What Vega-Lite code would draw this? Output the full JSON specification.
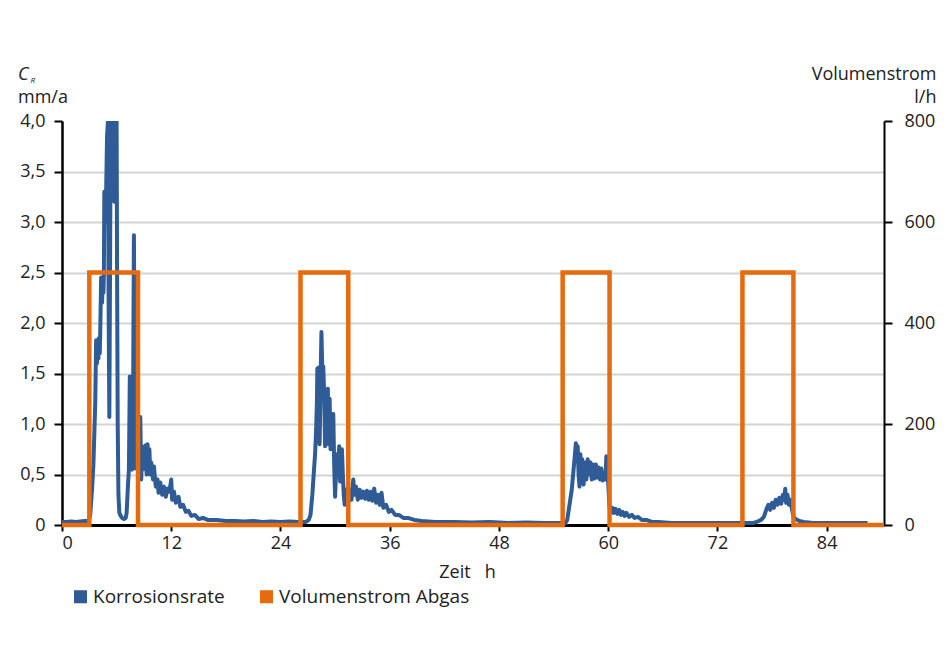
{
  "$schema": "https://vega.github.io/schema/vega-lite/v6.json",
  "width": 822,
  "height": 404,
  "autosize": {"type": "none"},
  "padding": {"left": 62, "top": 121, "right": 64, "bottom": 143},
  "background": "white",
  "config": {
    "font": "Open Sans",
    "view": {"stroke": null},
    "axis": {"labelFont": "Open Sans", "titleFont": "Open Sans", "labelColor": "#222", "titleColor": "#222"}
  },
  "title": {
    "text": "C",
    "subtitle": "mm/a",
    "anchor": "start",
    "frame": "group",
    "fontSize": 18,
    "fontStyle": "italic",
    "fontWeight": "normal",
    "color": "#222",
    "subtitleFontSize": 18,
    "subtitleFontStyle": "normal",
    "subtitleColor": "#222",
    "subtitlePadding": 5,
    "dx": -44,
    "dy": 46
  },
  "datasets": {
    "korrosion": [
      {"t":0,"v":0.03},{"t":0.5,"v":0.03},{"t":1,"v":0.035},{"t":1.5,"v":0.03},{"t":2,"v":0.035},{"t":2.5,"v":0.04},{"t":2.9,"v":0.04},
      {"t":3.1,"v":0.1},{"t":3.3,"v":0.35},{"t":3.45,"v":0.6},{"t":3.55,"v":0.9},{"t":3.65,"v":1.2},{"t":3.75,"v":1.83},{"t":3.85,"v":1.6},{"t":3.9,"v":1.8},{"t":4.0,"v":1.65},{"t":4.05,"v":1.85},{"t":4.15,"v":1.7},{"t":4.2,"v":1.9},{"t":4.3,"v":2.45},{"t":4.4,"v":2.2},{"t":4.5,"v":2.45},{"t":4.55,"v":2.3},{"t":4.6,"v":2.47},{"t":4.65,"v":3.3},{"t":4.75,"v":3.0},{"t":4.85,"v":3.3},{"t":4.95,"v":3.85},{"t":5.05,"v":4.0},{"t":5.12,"v":2.2},{"t":5.2,"v":1.07},{"t":5.28,"v":2.6},{"t":5.35,"v":4.0},{"t":5.45,"v":3.3},{"t":5.5,"v":4.0},{"t":5.6,"v":3.5},{"t":5.65,"v":4.0},{"t":5.75,"v":3.2},{"t":5.8,"v":4.0},{"t":5.9,"v":3.7},{"t":6.0,"v":4.0},{"t":6.05,"v":2.5},{"t":6.12,"v":1.0},{"t":6.2,"v":0.3},{"t":6.3,"v":0.12},{"t":6.45,"v":0.09},{"t":6.6,"v":0.07},{"t":6.8,"v":0.06},{"t":7.0,"v":0.07},{"t":7.1,"v":0.12},{"t":7.25,"v":0.4},{"t":7.35,"v":0.55},{"t":7.45,"v":1.47},{"t":7.55,"v":0.6},{"t":7.7,"v":0.55},{"t":7.8,"v":1.0},{"t":7.85,"v":2.0},{"t":7.9,"v":2.87},{"t":7.95,"v":2.0},{"t":8.0,"v":1.0},{"t":8.1,"v":0.56},{"t":8.2,"v":0.7},{"t":8.3,"v":0.65},{"t":8.4,"v":1.05},{"t":8.5,"v":0.5},{"t":8.6,"v":1.07},{"t":8.7,"v":0.45},{"t":8.8,"v":0.78},{"t":8.9,"v":0.55},{"t":9.0,"v":0.7},{"t":9.1,"v":0.6},{"t":9.2,"v":0.79},{"t":9.3,"v":0.5},{"t":9.4,"v":0.8},{"t":9.5,"v":0.55},{"t":9.6,"v":0.75},{"t":9.7,"v":0.5},{"t":9.8,"v":0.62},{"t":10.0,"v":0.45},{"t":10.1,"v":0.58},{"t":10.3,"v":0.38},{"t":10.5,"v":0.45},{"t":10.6,"v":0.32},{"t":10.8,"v":0.42},{"t":11.0,"v":0.3},{"t":11.2,"v":0.38},{"t":11.4,"v":0.28},{"t":11.6,"v":0.36},{"t":11.8,"v":0.33},{"t":12.0,"v":0.45},{"t":12.1,"v":0.25},{"t":12.3,"v":0.33},{"t":12.5,"v":0.22},{"t":12.8,"v":0.28},{"t":13.0,"v":0.18},{"t":13.3,"v":0.2},{"t":13.6,"v":0.13},{"t":13.9,"v":0.14},{"t":14.2,"v":0.09},{"t":14.6,"v":0.1},{"t":15.0,"v":0.06},{"t":15.5,"v":0.07},{"t":16,"v":0.05},{"t":17,"v":0.05},{"t":18,"v":0.04},{"t":19,"v":0.04},{"t":20,"v":0.035},{"t":21,"v":0.04},{"t":22,"v":0.03},{"t":23,"v":0.035},{"t":24,"v":0.03},{"t":25,"v":0.035},{"t":26,"v":0.03},{"t":26.8,"v":0.03},
      {"t":27.1,"v":0.05},{"t":27.3,"v":0.1},{"t":27.5,"v":0.3},{"t":27.65,"v":0.5},{"t":27.8,"v":0.7},{"t":27.9,"v":0.9},{"t":28.0,"v":1.2},{"t":28.05,"v":1.55},{"t":28.15,"v":1.5},{"t":28.2,"v":1.56},{"t":28.3,"v":0.8},{"t":28.4,"v":1.4},{"t":28.5,"v":1.91},{"t":28.6,"v":1.5},{"t":28.7,"v":1.57},{"t":28.8,"v":1.3},{"t":28.9,"v":0.78},{"t":29.0,"v":1.2},{"t":29.1,"v":1.0},{"t":29.2,"v":1.35},{"t":29.3,"v":0.8},{"t":29.4,"v":1.25},{"t":29.5,"v":0.75},{"t":29.6,"v":1.1},{"t":29.7,"v":0.8},{"t":29.8,"v":1.1},{"t":29.9,"v":0.6},{"t":30.0,"v":0.28},{"t":30.1,"v":0.5},{"t":30.2,"v":0.7},{"t":30.3,"v":0.5},{"t":30.45,"v":0.78},{"t":30.55,"v":0.43},{"t":30.65,"v":0.6},{"t":30.75,"v":0.75},{"t":30.85,"v":0.5},{"t":30.95,"v":0.3},{"t":31.05,"v":0.2},{"t":31.15,"v":0.35},{"t":31.3,"v":0.2},
      {"t":31.45,"v":0.22},{"t":31.6,"v":0.35},{"t":31.8,"v":0.25},{"t":32.0,"v":0.45},{"t":32.1,"v":0.3},{"t":32.3,"v":0.38},{"t":32.5,"v":0.25},{"t":32.7,"v":0.35},{"t":32.9,"v":0.27},{"t":33.1,"v":0.33},{"t":33.3,"v":0.26},{"t":33.5,"v":0.34},{"t":33.7,"v":0.25},{"t":33.9,"v":0.33},{"t":34.1,"v":0.24},{"t":34.3,"v":0.36},{"t":34.5,"v":0.22},{"t":34.7,"v":0.3},{"t":34.9,"v":0.2},{"t":35.1,"v":0.32},{"t":35.3,"v":0.17},{"t":35.6,"v":0.2},{"t":35.9,"v":0.13},{"t":36.2,"v":0.15},{"t":36.6,"v":0.1},{"t":37.0,"v":0.1},{"t":37.5,"v":0.07},{"t":38.0,"v":0.07},{"t":38.7,"v":0.05},{"t":39.5,"v":0.04},{"t":41,"v":0.03},{"t":43,"v":0.03},{"t":45,"v":0.025},{"t":47,"v":0.03},{"t":49,"v":0.02},{"t":51,"v":0.025},{"t":53,"v":0.02},{"t":55,"v":0.02},{"t":55.3,"v":0.02},
      {"t":55.5,"v":0.05},{"t":55.75,"v":0.2},{"t":56.0,"v":0.35},{"t":56.2,"v":0.55},{"t":56.35,"v":0.7},{"t":56.45,"v":0.81},{"t":56.55,"v":0.75},{"t":56.65,"v":0.78},{"t":56.75,"v":0.5},{"t":56.85,"v":0.38},{"t":56.95,"v":0.7},{"t":57.05,"v":0.45},{"t":57.15,"v":0.65},{"t":57.3,"v":0.4},{"t":57.45,"v":0.62},{"t":57.6,"v":0.45},{"t":57.75,"v":0.65},{"t":57.9,"v":0.5},{"t":58.05,"v":0.62},{"t":58.2,"v":0.45},{"t":58.35,"v":0.6},{"t":58.5,"v":0.46},{"t":58.65,"v":0.6},{"t":58.8,"v":0.47},{"t":58.95,"v":0.57},{"t":59.1,"v":0.45},{"t":59.25,"v":0.56},{"t":59.4,"v":0.44},{"t":59.55,"v":0.5},{"t":59.7,"v":0.45},{"t":59.8,"v":0.68},{"t":59.9,"v":0.5},{"t":60.0,"v":0.42},{"t":60.15,"v":0.17},{"t":60.3,"v":0.13},{"t":60.45,"v":0.17},{"t":60.6,"v":0.12},{"t":60.8,"v":0.16},{"t":61.0,"v":0.11},{"t":61.2,"v":0.15},{"t":61.4,"v":0.1},{"t":61.6,"v":0.13},{"t":61.8,"v":0.09},{"t":62.0,"v":0.12},{"t":62.3,"v":0.08},{"t":62.6,"v":0.1},{"t":62.9,"v":0.07},{"t":63.3,"v":0.08},{"t":63.7,"v":0.05},{"t":64.2,"v":0.05},{"t":64.8,"v":0.03},{"t":65.5,"v":0.03},{"t":67,"v":0.02},{"t":69,"v":0.02},{"t":71,"v":0.02},{"t":73,"v":0.02},{"t":75,"v":0.02},{"t":76,"v":0.02},
      {"t":76.3,"v":0.03},{"t":76.8,"v":0.05},{"t":77.1,"v":0.08},{"t":77.4,"v":0.16},{"t":77.6,"v":0.2},{"t":77.8,"v":0.15},{"t":78.0,"v":0.22},{"t":78.2,"v":0.17},{"t":78.4,"v":0.25},{"t":78.6,"v":0.2},{"t":78.8,"v":0.27},{"t":79.0,"v":0.21},{"t":79.2,"v":0.3},{"t":79.35,"v":0.25},{"t":79.45,"v":0.36},{"t":79.55,"v":0.22},{"t":79.7,"v":0.3},{"t":79.85,"v":0.2},{"t":80.0,"v":0.25},{"t":80.2,"v":0.15},{"t":80.35,"v":0.08},{"t":80.6,"v":0.06},{"t":81.0,"v":0.04},{"t":81.5,"v":0.03},{"t":82.5,"v":0.02},{"t":84,"v":0.02},{"t":86,"v":0.02},{"t":88.5,"v":0.02}
    ],
    "volumen": [
      {"t":0,"q":0},{"t":3.0,"q":0},{"t":3.0,"q":500},{"t":8.35,"q":500},{"t":8.35,"q":0},
      {"t":26.2,"q":0},{"t":26.2,"q":500},{"t":31.45,"q":500},{"t":31.45,"q":0},
      {"t":55.0,"q":0},{"t":55.0,"q":500},{"t":60.15,"q":500},{"t":60.15,"q":0},
      {"t":74.75,"q":0},{"t":74.75,"q":500},{"t":80.35,"q":500},{"t":80.35,"q":0},
      {"t":90.3,"q":0}
    ]
  },
  "layer": [
    {
      "data": {"name": "korrosion"},
      "mark": {"type": "line", "strokeWidth": 4, "strokeJoin": "round", "clip": true},
      "encoding": {
        "x": {
          "field": "t", "type": "quantitative",
          "scale": {"domain": [0, 90.3], "nice": false, "zero": false},
          "axis": {
            "values": [0, 12, 24, 36, 48, 60, 72, 84],
            "format": "d",
            "grid": false,
            "domainColor": "black", "domainWidth": 3,
            "tickColor": "black", "tickWidth": 2, "tickSize": 6,
            "labelFontSize": 18, "labelPadding": 3,
            "title": "Zeit\u00a0\u00a0\u00a0h",
            "titleFontSize": 18, "titleFontWeight": "normal",
            "titleX": 405, "titleY": 52, "titleAlign": "center", "titleBaseline": "alphabetic"
          }
        },
        "y": {
          "field": "v", "type": "quantitative",
          "scale": {"domain": [0, 4], "nice": false},
          "axis": {
            "values": [0, 0.5, 1, 1.5, 2, 2.5, 3, 3.5, 4],
            "labelExpr": "datum.value == 0 ? '0' : replace(format(datum.value, '.1f'), '.', ',')",
            "grid": true,
            "gridColor": {"condition": {"test": "datum.value >= 4 || datum.value <= 0", "value": "transparent"}, "value": "#d4d4d4"},
            "gridWidth": 2,
            "domainColor": "black", "domainWidth": 2.5,
            "tickColor": "black", "tickWidth": 2, "tickSize": 8,
            "labelFontSize": 18, "labelPadding": 9,
            "title": "R",
            "titleFontSize": 8, "titleFontWeight": "normal", "titleFontStyle": "italic",
            "titleAngle": 0, "titleAlign": "left", "titleBaseline": "alphabetic",
            "titleX": -32, "titleY": -39
          }
        },
        "color": {
          "datum": "Korrosionsrate", "type": "nominal",
          "scale": {"domain": ["Korrosionsrate", "Volumenstrom Abgas"], "range": ["#2f5c96", "#e66b0e"]},
          "legend": {
            "orient": "none", "legendX": 9, "legendY": 466,
            "direction": "horizontal", "title": null,
            "symbolType": "square", "symbolSize": 170, "symbolStrokeWidth": 0,
            "labelFontSize": 19, "labelFont": "Open Sans", "labelColor": "#222", "labelOffset": 3, "columnPadding": 32,
            "labelLimit": 400,
            "encode": {"symbols": {"update": {"fill": {"scale": "color", "field": "value"}, "stroke": {"value": "transparent"}, "opacity": {"value": 1}}}}
          }
        }
      }
    },
    {
      "data": {"name": "volumen"},
      "mark": {"type": "line", "strokeWidth": 4.5, "strokeJoin": "miter"},
      "encoding": {
        "x": {"field": "t", "type": "quantitative"},
        "y": {
          "field": "q", "type": "quantitative",
          "scale": {"domain": [0, 800], "nice": false},
          "axis": {
            "orient": "right",
            "values": [0, 200, 400, 600, 800],
            "grid": false,
            "domainColor": "black", "domainWidth": 2,
            "tickColor": "black", "tickWidth": 2, "tickSize": 8,
            "labelFontSize": 18, "labelPadding": 12,
            "title": ["Volumenstrom", "l/h"],
            "titleFontSize": 18, "titleFontWeight": "normal",
            "titleAngle": 0, "titleAlign": "right", "titleBaseline": "alphabetic",
            "titleX": 52, "titleY": -42, "titleLineHeight": 23
          }
        },
        "color": {"datum": "Volumenstrom Abgas", "type": "nominal"}
      }
    }
  ],
  "resolve": {"scale": {"y": "independent"}}
}
